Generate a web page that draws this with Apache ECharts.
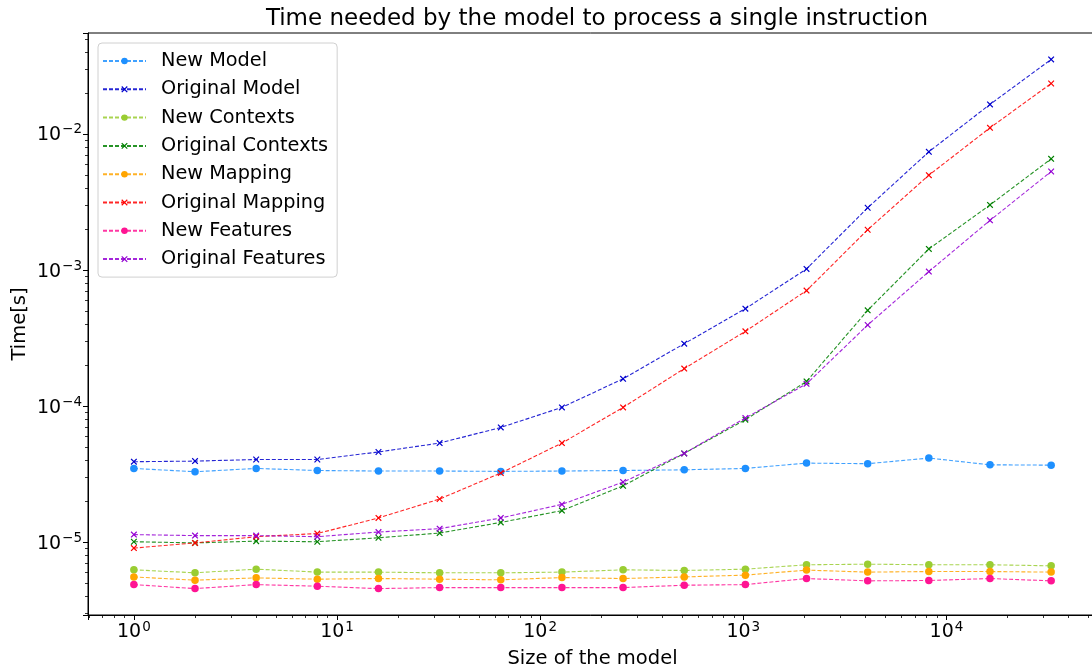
<!DOCTYPE html>
<html>
<head>
<meta charset="utf-8">
<script src="https://cdn.jsdelivr.net/npm/echarts@6/dist/echarts.min.js"></script>
<style>
html,body{margin:0;padding:0;background:#fff;}
#chart{width:1092px;height:671px;}
</style>
</head>
<body>
<div id="chart"></div>
<script>
// ---- data ----
const modelSizes = [1, 2, 4, 8, 16, 32, 64, 128, 256, 512, 1024, 2048, 4096, 8192, 16384, 32768];

const newModel = [3.49e-5, 3.30e-5, 3.49e-5, 3.37e-5, 3.34e-5, 3.34e-5, 3.32e-5, 3.34e-5, 3.37e-5, 3.41e-5, 3.49e-5, 3.82e-5, 3.78e-5, 4.16e-5, 3.71e-5, 3.69e-5];
const originalModel = [3.91e-5, 3.95e-5, 4.06e-5, 4.06e-5, 4.61e-5, 5.36e-5, 6.98e-5, 9.8e-5, 1.59e-4, 2.88e-4, 5.21e-4, 1.02e-3, 2.87e-3, 7.40e-3, 1.65e-2, 3.53e-2];
const newContexts = [6.28e-6, 5.97e-6, 6.35e-6, 6.04e-6, 6.04e-6, 5.97e-6, 5.97e-6, 6.04e-6, 6.28e-6, 6.21e-6, 6.35e-6, 6.84e-6, 6.91e-6, 6.84e-6, 6.84e-6, 6.72e-6];
const originalContexts = [1.01e-5, 9.9e-6, 1.02e-5, 1.01e-5, 1.08e-5, 1.17e-5, 1.40e-5, 1.71e-5, 2.60e-5, 4.50e-5, 7.96e-5, 1.52e-4, 5.06e-4, 1.43e-3, 3.01e-3, 6.57e-3];
const newMapping = [5.57e-6, 5.27e-6, 5.48e-6, 5.36e-6, 5.42e-6, 5.36e-6, 5.30e-6, 5.51e-6, 5.42e-6, 5.57e-6, 5.74e-6, 6.25e-6, 6.04e-6, 6.10e-6, 6.10e-6, 6.04e-6];
const originalMapping = [9.07e-6, 9.9e-6, 1.10e-5, 1.16e-5, 1.51e-5, 2.08e-5, 3.23e-5, 5.36e-5, 9.8e-5, 1.89e-4, 3.55e-4, 7.07e-4, 1.98e-3, 4.98e-3, 1.11e-2, 2.35e-2];
const newFeatures = [4.89e-6, 4.57e-6, 4.89e-6, 4.76e-6, 4.57e-6, 4.65e-6, 4.65e-6, 4.65e-6, 4.65e-6, 4.84e-6, 4.89e-6, 5.42e-6, 5.21e-6, 5.24e-6, 5.42e-6, 5.21e-6];
const originalFeatures = [1.14e-5, 1.12e-5, 1.12e-5, 1.10e-5, 1.19e-5, 1.26e-5, 1.51e-5, 1.90e-5, 2.77e-5, 4.50e-5, 8.19e-5, 1.46e-4, 3.95e-4, 9.75e-4, 2.32e-3, 5.30e-3];

const seriesNames = ['New Model', 'Original Model', 'New Contexts', 'Original Contexts', 'New Mapping', 'Original Mapping', 'New Features', 'Original Features'];
const seriesValues = [newModel, originalModel, newContexts, originalContexts, newMapping, originalMapping, newFeatures, originalFeatures];

// ---- styling ----
const colors = ['#1E90FF', '#0000CD', '#9ACD32', '#008000', '#FFA500', '#FF0000', '#FF1493', '#9400D3'];
const crossPath = 'path://M0,1.3 L1.3,0 L5,3.7 L8.7,0 L10,1.3 L6.3,5 L10,8.7 L8.7,10 L5,6.3 L1.3,10 L0,8.7 L3.7,5 Z';
const FONT = 'DejaVu Sans';

function powLabel(v) {
  const e = Math.round(Math.log10(v));
  return '{b|10}{s|' + String(e).replace('-', '\u2212') + '}';
}
const tickRich = {
  b: { fontFamily: FONT, fontSize: 19, color: '#000', verticalAlign: 'bottom' },
  s: { fontFamily: FONT, fontSize: 13.5, color: '#000', verticalAlign: 'bottom', padding: [0, 0, 8, 1] }
};

const series = seriesNames.map((name, i) => {
  const isNew = name.startsWith('New');
  return {
    name: name,
    type: 'line',
    data: modelSizes.map((x, k) => [x, seriesValues[i][k]]),
    symbol: isNew ? 'circle' : crossPath,
    symbolSize: isNew ? 7.5 : 6.5,
    showSymbol: true,
    showAllSymbol: true,
    lineStyle: { color: colors[i], width: 1.1, type: [4, 2], opacity: 0.85 },
    itemStyle: { color: colors[i], opacity: 1 },
    emphasis: { disabled: true },
    animation: false,
    z: 3 + i
  };
});

const chart = echarts.init(document.getElementById('chart'), null, { renderer: 'canvas' });
chart.setOption({
  animation: false,
  backgroundColor: '#ffffff',
  title: {
    text: 'Time needed by the model to process a single instruction',
    left: 592,
    textAlign: 'center',
    top: 3,
    textStyle: { fontFamily: FONT, fontSize: 23, fontWeight: 'normal', color: '#000' }
  },
  legend: {
    orient: 'vertical',
    left: 98,
    top: 43,
    padding: [8, 9, 8, 4],
    itemWidth: 43,
    itemHeight: 8,
    itemGap: 8.3,
    backgroundColor: '#fff',
    borderColor: '#d0d0d0',
    borderWidth: 1,
    borderRadius: 4,
    textStyle: { fontFamily: FONT, fontSize: 19.3, color: '#000', lineHeight: 20, padding: [0, 0, 0, 10] },
    data: seriesNames
  },
  grid: {
    left: 88,
    right: -5,
    top: 33,
    bottom: 56,
    show: true,
    borderColor: '#000',
    borderWidth: 1,
    containLabel: false,
    outerBoundsMode: 'none'
  },
  xAxis: {
    type: 'log',
    logBase: 10,
    min: Math.pow(10, -0.2258),
    max: Math.pow(10, 4.7412),
    name: 'Size of the model',
    nameLocation: 'middle',
    nameGap: 34,
    nameTextStyle: { fontFamily: FONT, fontSize: 19.5, color: '#000' },
    axisLine: { show: true, lineStyle: { color: '#000', width: 1 } },
    axisTick: { show: true, length: 5, lineStyle: { color: '#000', width: 1 } },
    minorTick: { show: true, splitNumber: 9, length: 3, lineStyle: { color: '#000', width: 0.8 } },
    splitLine: { show: false },
    minorSplitLine: { show: false },
    axisLabel: {
      margin: 5,
      showMinLabel: false, showMaxLabel: false,
      formatter: powLabel,
      rich: tickRich
    }
  },
  yAxis: {
    type: 'log',
    logBase: 10,
    min: Math.pow(10, -5.534),
    max: Math.pow(10, -1.258),
    name: 'Time[s]',
    nameLocation: 'middle',
    nameGap: 58,
    nameMoveOverlap: false,
    nameRotate: 90,
    nameTextStyle: { fontFamily: FONT, fontSize: 19.5, color: '#000' },
    axisLine: { show: true, lineStyle: { color: '#000', width: 1 } },
    axisTick: { show: true, length: 5, lineStyle: { color: '#000', width: 1 } },
    minorTick: { show: true, splitNumber: 9, length: 3, lineStyle: { color: '#000', width: 0.8 } },
    splitLine: { show: false },
    minorSplitLine: { show: false },
    axisLabel: {
      margin: 6,
      showMinLabel: false, showMaxLabel: false,
      formatter: powLabel,
      rich: tickRich
    }
  },
  series: series
});
</script>
</body>
</html>
